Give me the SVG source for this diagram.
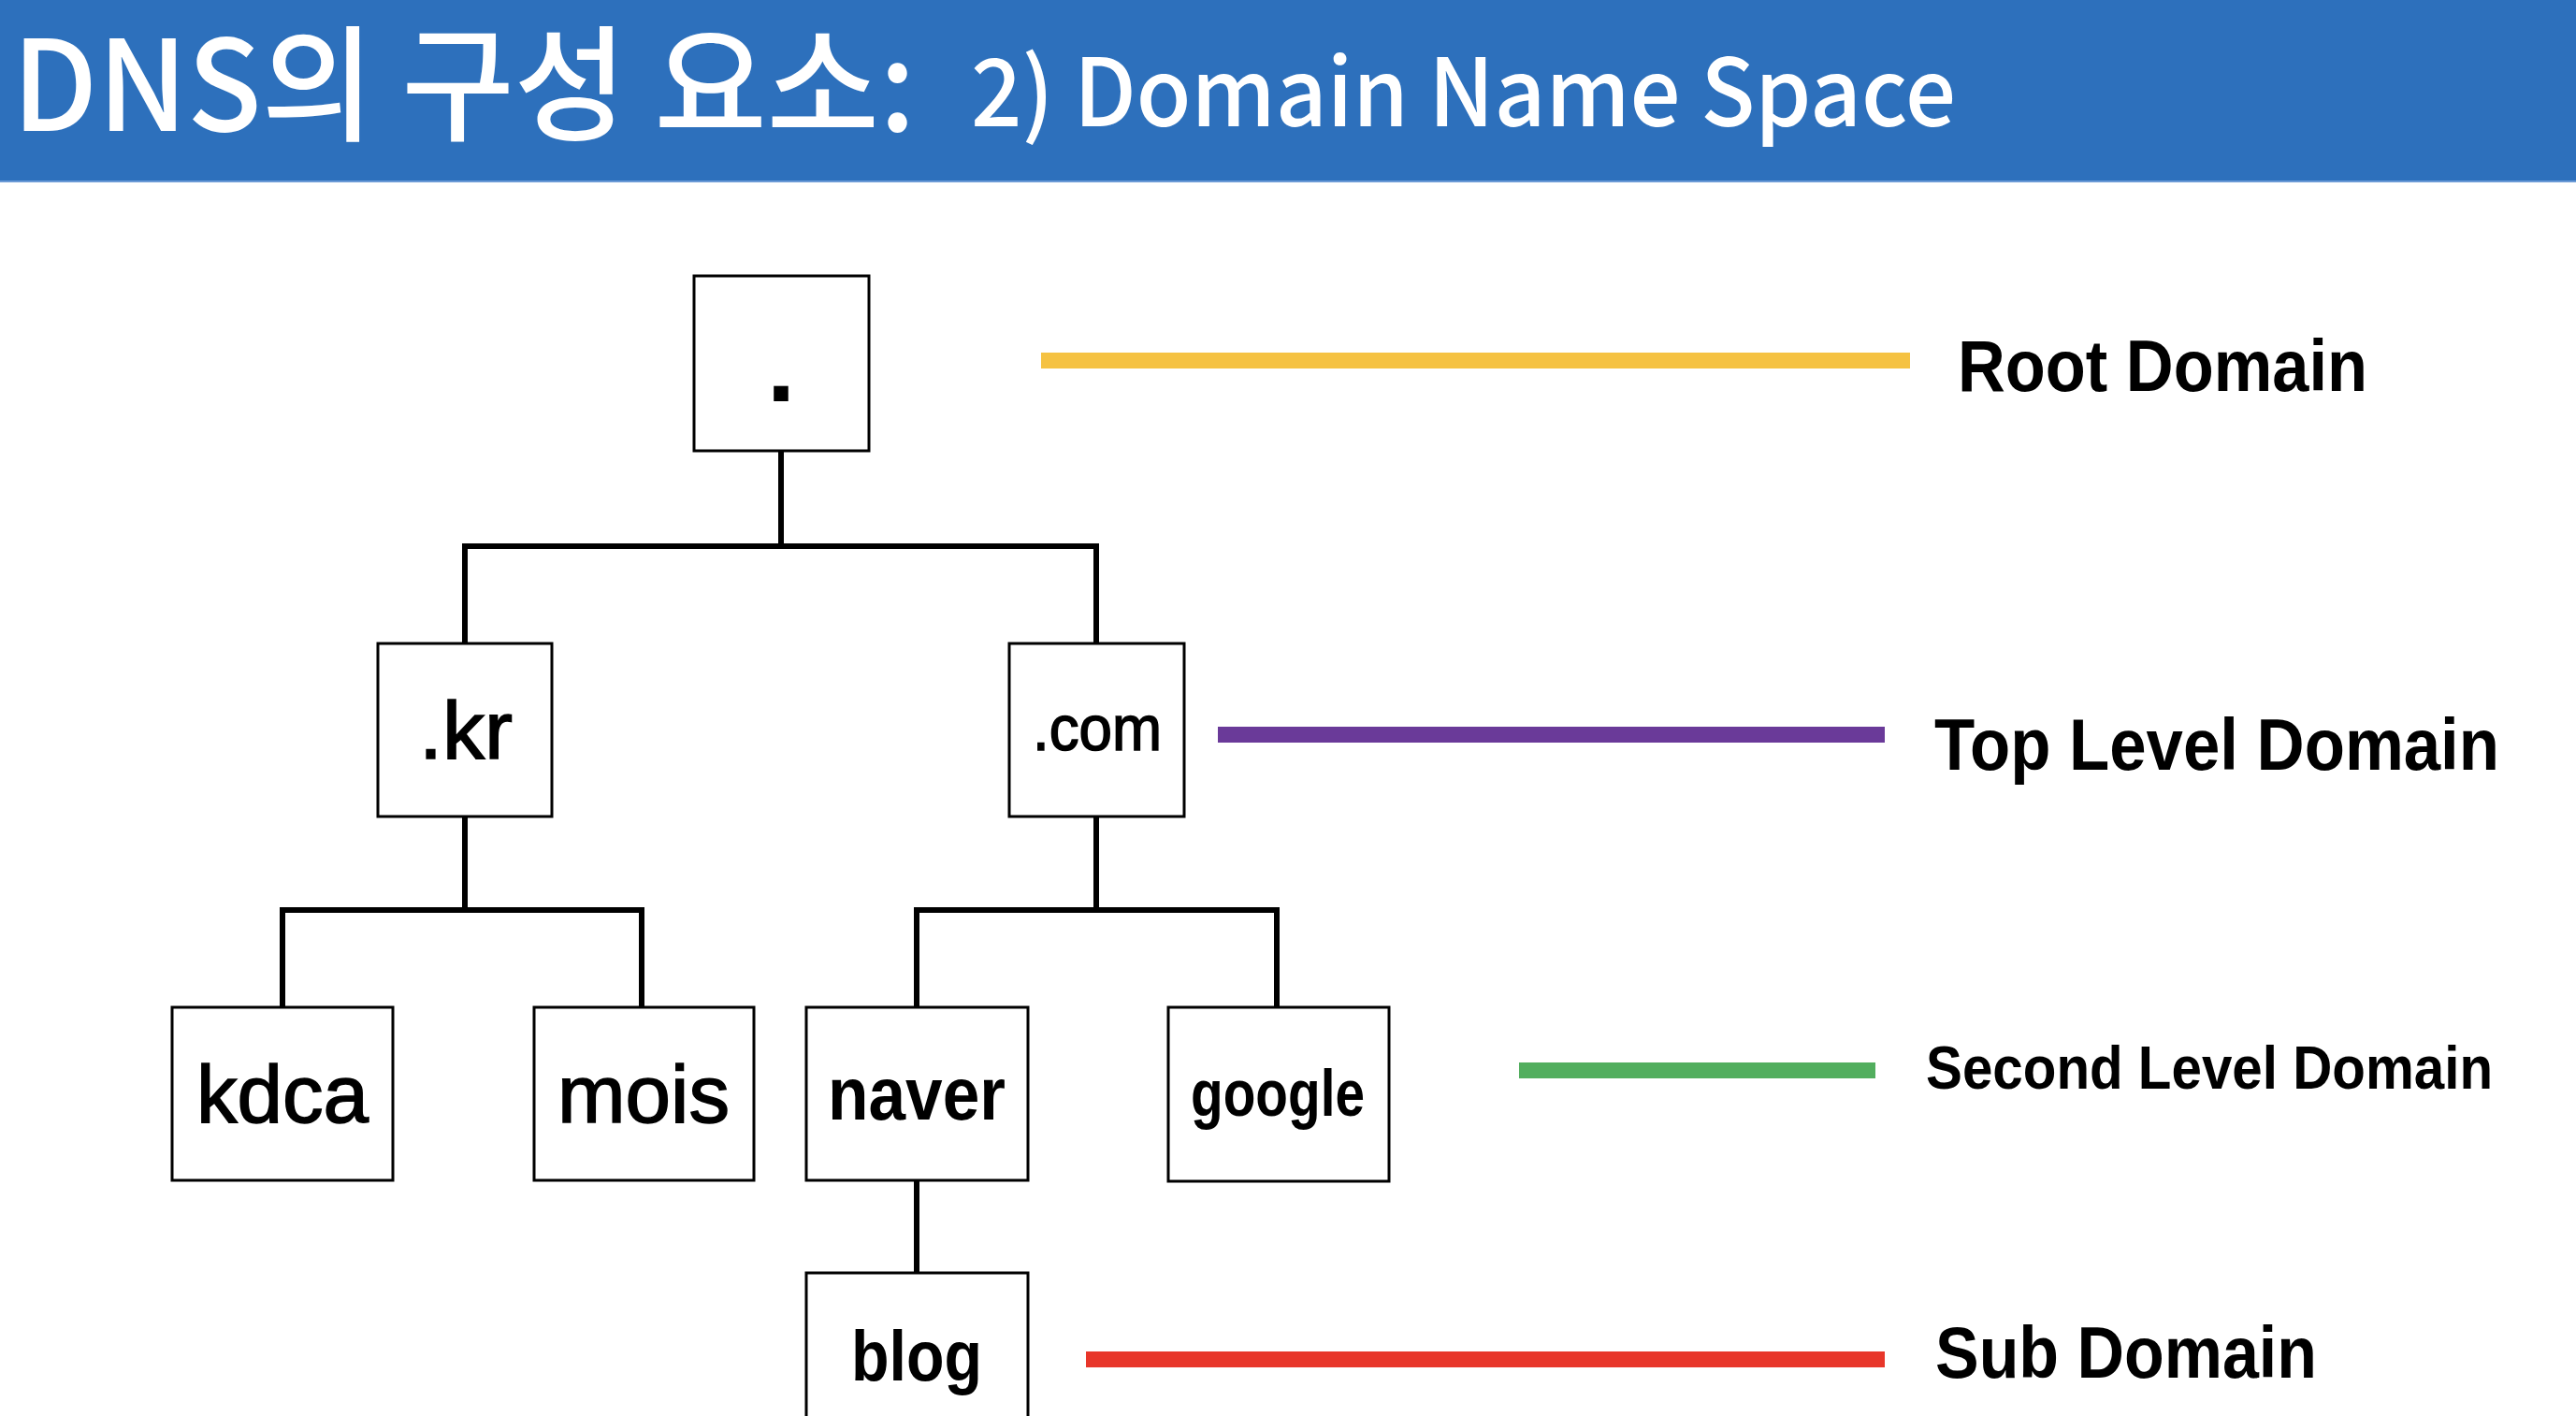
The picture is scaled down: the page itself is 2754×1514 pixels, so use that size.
<svg xmlns="http://www.w3.org/2000/svg" width="2754" height="1514" viewBox="0 0 2754 1514">
<style>
.node rect{fill:#ffffff;stroke:#000000;stroke-width:3}
.lbl{font-family:"Liberation Sans",Arial,sans-serif;fill:#000;text-anchor:middle}
.med{stroke:#000;stroke-width:1.6}
.b{font-weight:bold}
.leg{font-family:"Liberation Sans",Arial,sans-serif;font-weight:bold;fill:#000}
.conn path{fill:none;stroke:#000;stroke-width:6;stroke-linejoin:miter;stroke-linecap:square}
.title{font-family:"Noto Sans CJK KR","Noto Sans",sans-serif;font-weight:500;fill:#fff}
</style>
<rect x="0" y="0" width="2754" height="193" fill="#2D70BC"/>
<rect x="0" y="193" width="2754" height="2" fill="#6B9AD6"/>
<g id="title">
<text class="title" x="13" y="140" font-size="134" textLength="966" lengthAdjust="spacingAndGlyphs">DNS의 구성 요소:</text>
<text class="title" x="1038" y="135" font-size="100" textLength="1053" lengthAdjust="spacingAndGlyphs">2) Domain Name Space</text>
</g>
<g id="connectors" class="conn">
<path d="M835,482 V584"/>
<path d="M497,688 V584 H1172 V688"/>
<path d="M497,873 V973"/>
<path d="M302,1077 V973 H686 V1077"/>
<path d="M1172,873 V973"/>
<path d="M980,1077 V973 H1365 V1077"/>
<path d="M980,1262 V1364"/>
</g>
<g id="node-root" class="node"><rect x="742" y="295" width="187" height="187"/><text class="lbl b" x="835" y="429" font-size="110">.</text></g>
<g id="node-kr" class="node"><rect x="404" y="688" width="186" height="185"/><text class="lbl med" x="498" y="811" font-size="88" textLength="100" lengthAdjust="spacingAndGlyphs">.kr</text></g>
<g id="node-com" class="node"><rect x="1079" y="688" width="187" height="185"/><text class="lbl med" x="1173" y="802" font-size="68" textLength="138" lengthAdjust="spacingAndGlyphs">.com</text></g>
<g id="node-kdca" class="node"><rect x="184" y="1077" width="236" height="185"/><text class="lbl med" x="302" y="1200" font-size="88" textLength="184" lengthAdjust="spacingAndGlyphs">kdca</text></g>
<g id="node-mois" class="node"><rect x="571" y="1077" width="235" height="185"/><text class="lbl med" x="688" y="1200" font-size="88" textLength="184" lengthAdjust="spacingAndGlyphs">mois</text></g>
<g id="node-naver" class="node"><rect x="862" y="1077" width="237" height="185"/><text class="lbl b" x="980" y="1197" font-size="80" textLength="190" lengthAdjust="spacingAndGlyphs">naver</text></g>
<g id="node-google" class="node"><rect x="1249" y="1077" width="236" height="186"/><text class="lbl b" x="1366" y="1193" font-size="70" textLength="186" lengthAdjust="spacingAndGlyphs">google</text></g>
<g id="node-blog" class="node"><rect x="862" y="1361" width="237" height="200"/><text class="lbl b" x="980" y="1476" font-size="76" textLength="140" lengthAdjust="spacingAndGlyphs">blog</text></g>
<g id="legend">
<rect x="1113" y="377" width="929" height="17" fill="#F5C242"/>
<text class="leg" x="2093" y="418" font-size="77" textLength="438" lengthAdjust="spacingAndGlyphs">Root Domain</text>
<rect x="1302" y="777" width="713" height="17" fill="#6A3A99"/>
<text class="leg" x="2068" y="823" font-size="78" textLength="604" lengthAdjust="spacingAndGlyphs">Top Level Domain</text>
<rect x="1624" y="1136" width="381" height="17" fill="#52AE5E"/>
<text class="leg" x="2059" y="1164" font-size="64" textLength="606" lengthAdjust="spacingAndGlyphs">Second Level Domain</text>
<rect x="1161" y="1445" width="854" height="17" fill="#E8362A"/>
<text class="leg" x="2069" y="1473" font-size="77" textLength="408" lengthAdjust="spacingAndGlyphs">Sub Domain</text>
</g>
</svg>
